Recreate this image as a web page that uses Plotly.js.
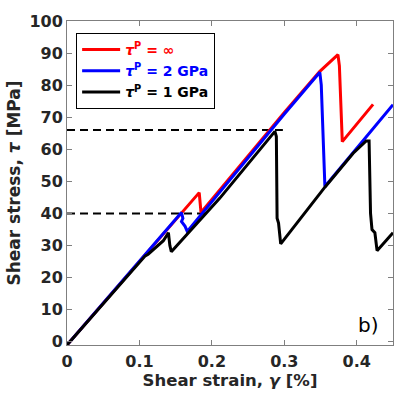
<!DOCTYPE html>
<html>
<head>
<meta charset="utf-8">
<script src="https://cdn.plot.ly/plotly-3.0.1.min.js"></script>
<style>
  html, body { margin: 0; padding: 0; background: #fff; }
  #plot { width: 407px; height: 393px; }
</style>
</head>
<body>
<div id="plot"></div>
<script>
// shear strain [%] / shear stress [MPa]
var redX = [0, 0.1825, 0.185, 0.30, 0.349, 0.374, 0.376, 0.380, 0.4225];
var redY = [-1, 46.5, 40.3, 71.5, 84.3, 89.5, 86, 62.4, 74];

var blueX = [0, 0.158, 0.160, 0.158, 0.163, 0.166, 0.30, 0.349, 0.351, 0.356, 0.45];
var blueY = [-1, 40.3, 38.5, 37.5, 36, 34.4, 71, 84.0, 80, 48.4, 73.9];

var blackX = [0, 0.108, 0.112, 0.133, 0.140, 0.142, 0.144, 0.211, 0.287, 0.289, 0.290, 0.292, 0.295,
              0.356, 0.395, 0.413, 0.417, 0.419, 0.421, 0.425, 0.428, 0.45];
var blackY = [-1, 26.8, 27.3, 31.5, 34, 30, 28.1, 44.8, 65.6, 64, 38.5, 37, 30.5,
              48.2, 58.8, 62.6, 62.6, 40, 35, 34, 28.4, 34];

// dashed reference levels
var level1X = [0, 0.197], level1Y = [40, 40];
var level2X = [0, 0.298], level2Y = [66, 66];

var names = ['<span style="color:#ff0000"><i>τ</i><sup>P</sup> = ∞</span>',
             '<span style="color:#0000ff"><i>τ</i><sup>P</sup> = 2 GPa</span>',
             '<span style="color:#000000"><i>τ</i><sup>P</sup> = 1 GPa</span>'];

var dash = {color: '#000', width: 2, dash: '8px,5px'};

var traces = [
  {x: level1X, y: level1Y, mode: 'lines', line: dash, showlegend: false, hoverinfo: 'skip'},
  {x: level2X, y: level2Y, mode: 'lines', line: dash, showlegend: false, hoverinfo: 'skip'},
  {x: redX, y: redY, mode: 'lines', name: names[0], line: {color: '#ff0000', width: 3}},
  {x: blueX, y: blueY, mode: 'lines', name: names[1], line: {color: '#0000ff', width: 3}},
  {x: blackX, y: blackY, mode: 'lines', name: names[2], line: {color: '#000000', width: 3}}
];

var fnt = {family: 'DejaVu Sans', size: 16, color: '#262626', weight: 'bold'};

var axisBase = {
  showgrid: false, zeroline: false,
  showline: true, linecolor: '#7f7f7f', linewidth: 1, mirror: 'ticks',
  ticks: 'inside', ticklen: 5, tickcolor: '#7f7f7f',
  tickfont: fnt
};

var layout = {
  width: 407, height: 393,
  margin: {l: 67, r: 14, t: 21, b: 48},
  paper_bgcolor: '#fff', plot_bgcolor: '#fff',
  showlegend: true,
  legend: {
    x: 0.028, y: 0.963, xanchor: 'left', yanchor: 'top',
    bgcolor: '#fff', bordercolor: '#000', borderwidth: 1,
    font: {family: 'DejaVu Sans', size: 14, weight: 'bold'},
    itemwidth: 38, tracegroupgap: 0
  },
  xaxis: Object.assign({}, axisBase, {
    range: [0, 0.45], tickvals: [0, 0.1, 0.2, 0.3, 0.4], ticktext: ['0', '0.1', '0.2', '0.3', '0.4'],
    ticklabelstandoff: 2,
    title: {text: 'Shear strain, <i>γ</i> [%]', font: Object.assign({}, fnt, {size: 16.5}), standoff: 4}
  }),
  yaxis: Object.assign({}, axisBase, {
    range: [-1, 100], tickvals: [0, 10, 20, 30, 40, 50, 60, 70, 80, 90, 100],
    title: {text: 'Shear stress, <i>τ</i> [MPa]', font: Object.assign({}, fnt, {size: 17}), standoff: 4}
  }),
  annotations: [{
    xref: 'paper', yref: 'paper', x: 0.963, y: 0.062, xanchor: 'right', yanchor: 'middle',
    text: 'b)', showarrow: false, font: {family: 'DejaVu Sans', size: 20, color: '#000'}
  }]
};

Plotly.newPlot('plot', traces, layout, {displayModeBar: false, staticPlot: true});
</script>
</body>
</html>
